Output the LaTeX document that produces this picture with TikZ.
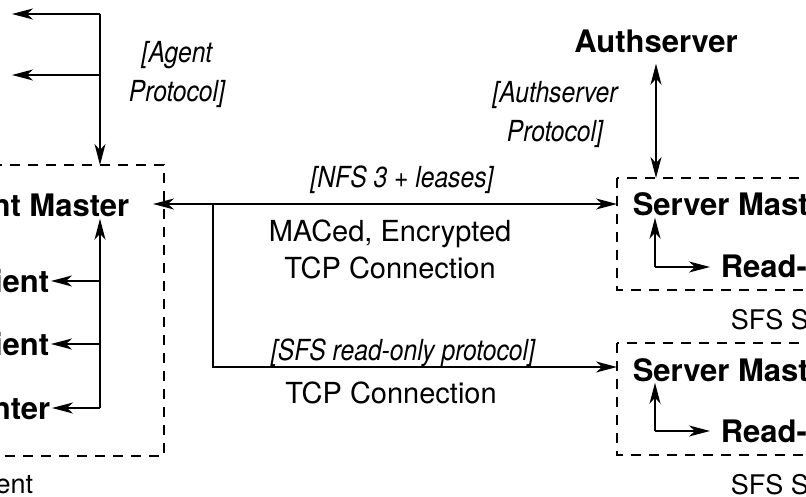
\documentclass[tikz,border=0pt]{standalone}
\usepackage{fontspec}
\setmainfont{TeX Gyre Heros}
\newfontfamily\protofont[FakeStretch=0.85]{TeX Gyre Heros}
\usetikzlibrary{arrows.meta}

\begin{document}
\begin{tikzpicture}[x=1pt, y=-1pt, line width=1.5pt,
  >={Stealth[length=21pt, width=11pt, inset=6pt]},
  part/.style={font=\bfseries\fontsize{31}{36}\selectfont, inner sep=1pt, text height=22pt, text depth=0pt},
  proto/.style={font=\protofont\itshape\fontsize{29}{39}\selectfont, align=center, inner sep=0pt},
  conn/.style={font=\fontsize{29}{36}\selectfont, align=center, inner sep=0pt},
  caption/.style={font=\fontsize{27}{32}\selectfont, inner sep=0pt},
  box/.style={line width=1.3pt, dash pattern=on 10pt off 8pt}]
  \useasboundingbox (0,0) rectangle (806,497);
  \clip (0,0) rectangle (806,497);

  % client side
  \draw[box] (-10,165) rectangle (164,456);
  \node[part, anchor=base east] (cmaster) at (131,217) {Client Master};
  \node[part, anchor=base east] (rwclient) at (51,292) {Read-Write Client};
  \node[part, anchor=base east] (roclient) at (51,355) {Read-Only Client};
  \node[part, anchor=base east] (mounter) at (52,419) {NFS Mounter};
  \node[caption, anchor=base east] (client) at (34,493) {SFS Client};

  % agents
  \coordinate (agentbus) at (100,14);
  \coordinate (agent1) at (12,14);
  \coordinate (agent2) at (12,75);
  \coordinate (cmtop) at (100,165);
  \draw[->] (agentbus) -- (agent1);
  \draw[->] (agentbus |- agent2) -- (agent2);
  \draw[->] (agentbus) -- (cmtop);
  % base of a two-line node is its last line
  \node[proto, anchor=base] (agentlabel) at (177,102) {[Agent\\Protocol]};

  % inside the client master
  \coordinate (cbus) at (100,408);
  \draw[->] (cbus) -- (cbus |- cmaster.south);
  \draw[->] (cbus |- rwclient.east) -- (rwclient.east);
  \draw[->] (cbus |- roclient.east) -- (roclient.east);
  \draw[->] (cbus) -- (mounter.east);

  % server side
  \node[part, anchor=base] (auth) at (656,53) {Authserver};
  \node[proto, anchor=base] (authlabel) at (555,142) {[Authserver\\Protocol]};
  \coordinate (s1top) at (656,178);
  \draw[<->] ([yshift=-9pt]auth.south) -- (s1top);

  \draw[box] (617,178) rectangle (830,290);
  \node[part, anchor=base west] (smaster1) at (631,216) {Server Master};
  \node[part, anchor=base west] (rosrv1) at (719,277) {Read-Only Server};
  \node[caption, anchor=base west] (server1) at (730,329) {SFS Server};
  \coordinate (s1bus) at (655,267);
  \draw[->] (s1bus) -- (s1bus |- smaster1.south);
  \draw[->, shorten >=9pt] (s1bus) -- (s1bus -| rosrv1.west);

  \draw[box] (617,343) rectangle (830,455);
  \node[part, anchor=base west] (smaster2) at (631,381) {Server Master};
  \node[part, anchor=base west] (rosrv2) at (719,442) {Read-Only Server};
  \node[caption, anchor=base west] (server2) at (730,494) {SFS Server};
  \coordinate (s2bus) at (655,431);
  \draw[->] (s2bus) -- (s2bus |- smaster2.south);
  \draw[->, shorten >=9pt] (s2bus) -- (s2bus -| rosrv2.west);

  % connections between client and servers
  \coordinate (cmport) at (153,204);
  \coordinate (smport1) at (617,204);
  \coordinate (split) at (213,204);
  \coordinate (smport2) at (617,367);
  \draw[<->] (cmport) -- (smport1);
  \draw[->] (split) |- (smport2);
  \node[proto, anchor=base] (nfslabel) at (402,188) {[NFS 3 + leases]};
  \node[conn, anchor=base] (tcp1) at (390,278) {MACed, Encrypted\\TCP Connection};
  \node[proto, anchor=base] (rolabel) at (403,360) {[SFS read-only protocol]};
  \node[conn, anchor=base] (tcp2) at (391,403) {TCP Connection};
\end{tikzpicture}
\end{document}
